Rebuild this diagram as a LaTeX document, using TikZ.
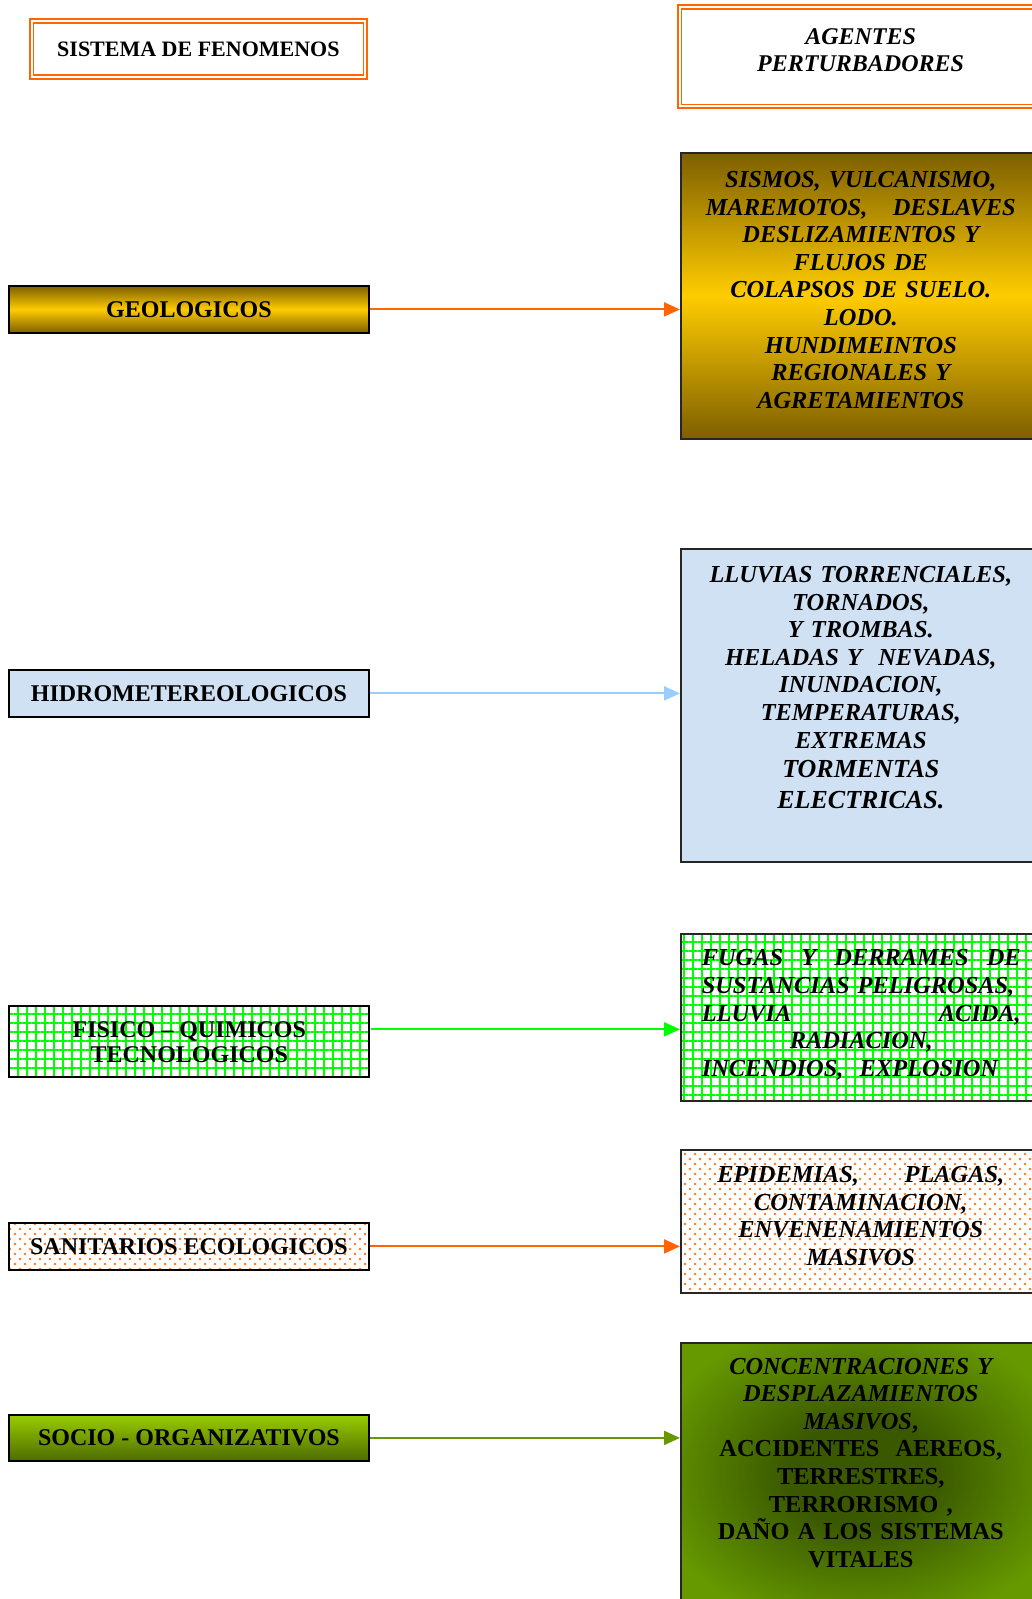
\documentclass[tikz,border=0pt]{standalone}
\usepackage{fontspec}
\setmainfont{Liberation Serif}
\usetikzlibrary{arrows.meta,patterns.meta}

\definecolor{naranja}{RGB}{255,102,0}
\definecolor{oroosc}{RGB}{125,95,0}
\definecolor{oro}{RGB}{255,204,0}
\definecolor{celeste}{RGB}{208,225,244}
\definecolor{celesteflecha}{RGB}{153,204,255}
\definecolor{verdefis}{RGB}{0,255,0}
\definecolor{puntos}{RGB}{255,120,30}
\definecolor{lima}{RGB}{153,204,0}
\definecolor{olivo}{RGB}{77,108,0}
\definecolor{verdesoc}{RGB}{102,153,0}
\definecolor{verdeosc}{RGB}{58,88,0}

\pgfdeclareradialshading{sombraverde}{\pgfpoint{0bp}{0bp}}{color(0bp)=(verdeosc); color(10bp)=(verdeosc); color(30bp)=(verdesoc); color(50bp)=(verdesoc)}

\newcommand{\letraizq}{\fontsize{24}{25}\selectfont\bfseries}
\newcommand{\letrader}{\fontsize{24.4}{27.6}\selectfont\bfseries\itshape}

\begin{document}
\begin{tikzpicture}[x=1pt,y=-1pt,
    titulo/.style={draw=naranja, line width=1.8pt, double=white, double distance=1.8pt, inner sep=0pt, anchor=north west},
    fenomeno/.style={draw=black, line width=1.8pt, anchor=north west, inner sep=0pt, minimum width=360pt, minimum height=47pt, align=center, font=\letraizq},
    agente/.style={draw=black!85, line width=1.6pt, anchor=north west, inner sep=0pt, text width=360pt, align=center, font=\letrader},
    flecha/.style={line width=2pt, -{Triangle[length=16pt,width=14pt]}},
    dorado/.style={top color=oroosc, bottom color=oroosc, middle color=oro},
    cuadricula/.style={pattern={Hatch[distance=9pt,angle=0,line width=2.6pt]}, pattern color=verdefis},
    punteado/.style={preaction={pattern={Dots[distance=10pt,radius=1.3pt]}, pattern color=puntos}, pattern={Dots[distance=10pt,radius=1.3pt,xshift=5pt,yshift=5pt]}, pattern color=puntos}]

    \useasboundingbox (0,0) rectangle (1032,1599);
    \clip (0,0) rectangle (1032,1599);

    % titulos
    \node[titulo, minimum width=333.6pt, minimum height=56pt, font=\fontsize{22}{26}\selectfont\bfseries] (sistema) at (30.7,20) {SISTEMA DE FENOMENOS};
    \node[titulo, text width=362pt, align=center, text height=37.3pt, text depth=62pt, font=\fontsize{24}{27.7}\selectfont\bfseries\itshape] (agentes) at (678.7,6) {AGENTES\\PERTURBADORES};

    % fenomenos
    \node[fenomeno, dorado] (geo) at (8,285) {GEOLOGICOS};
    \node[fenomeno, fill=celeste] (hidro) at (8,669) {HIDROMETEREOLOGICOS};
    \node[fenomeno, cuadricula, minimum height=71pt] (fisico) at (8,1005) {FISICO -- QUIMICOS\\TECNOLOGICOS};
    \node[fenomeno, punteado] (sanit) at (8,1222) {SANITARIOS ECOLOGICOS};
    \node[fenomeno, top color=lima, bottom color=olivo, minimum height=46pt] (socio) at (8,1414) {SOCIO - ORGANIZATIVOS};

    % agentes
    \node[agente, dorado, text height=34.7pt, text depth=251.3pt] (geoag) at (680,152) {SISMOS, VULCANISMO,\\ \makebox[310pt]{MAREMOTOS,\hfill DESLAVES}\\ DESLIZAMIENTOS Y\\ FLUJOS DE\\ COLAPSOS DE SUELO.\\ LODO.\\ HUNDIMEINTOS\\ REGIONALES Y\\ AGRETAMIENTOS};
    \node[agente, fill=celeste, text height=33.7pt, text depth=279.3pt] (hidroag) at (680,548) {LLUVIAS TORRENCIALES,\\ TORNADOS,\\ Y TROMBAS.\\ HELADAS Y\ \ NEVADAS,\\ INUNDACION,\\ TEMPERATURAS,\\ EXTREMAS\\[1.5pt] {\fontsize{26}{30}\selectfont TORMENTAS}\\[4pt] {\fontsize{26}{30}\selectfont ELECTRICAS.}};
    \node[agente, cuadricula, text width=319pt, inner xsep=21pt, align=left, text height=32pt, text depth=135pt] (fisicoag) at (680,933) {\makebox[319pt]{FUGAS\hfill Y\hfill DERRAMES\hfill DE}\\ SUSTANCIAS PELIGROSAS,\\ \makebox[319pt]{LLUVIA\hfill ACIDA,}\\ \makebox[319pt]{RADIACION,}\\ INCENDIOS,\ \ EXPLOSION};
    \node[agente, punteado, text height=32.7pt, text depth=110.3pt] (sanitag) at (680,1149) {\makebox[287pt]{EPIDEMIAS,\hfill PLAGAS,}\\ CONTAMINACION,\\ ENVENENAMIENTOS\\ MASIVOS};
    \node[agente, shading=sombraverde, text height=31.3pt, text depth=231pt] (socioag) at (680,1342) {CONCENTRACIONES Y\\ DESPLAZAMIENTOS\\ MASIVOS{\upshape,}\\ \upshape ACCIDENTES\ \ AEREOS,\\ TERRESTRES,\\ TERRORISMO ,\\ DAÑO A LOS SISTEMAS\\ VITALES};

    % flechas
    \draw[flecha, naranja] (geo.east) -- (geo.east -| geoag.west);
    \draw[flecha, celesteflecha] (hidro.east) -- (hidro.east -| hidroag.west);
    \draw[flecha, verdefis] ([yshift=12.5pt]fisico.east) -- ([yshift=12.5pt]fisico.east -| fisicoag.west);
    \draw[flecha, naranja] (sanit.east) -- (sanit.east -| sanitag.west);
    \draw[flecha, verdesoc] (socio.east) -- (socio.east -| socioag.west);
\end{tikzpicture}
\end{document}
